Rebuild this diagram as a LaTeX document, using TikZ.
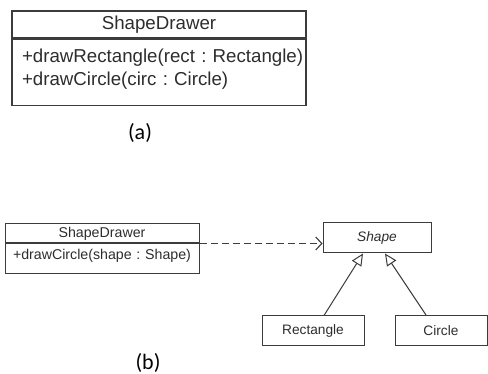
\documentclass[tikz,border=0pt]{standalone}
\usepackage{fontspec}
\setmainfont{Liberation Sans}
\newfontfamily\capfont{Carlito}
\definecolor{umlLine}{RGB}{60,60,60}
\definecolor{umlText}{RGB}{45,45,45}
\usetikzlibrary{arrows.meta,positioning,calc}
\frenchspacing

\begin{document}
\begin{tikzpicture}[x=1pt, y=-1pt,
    cls/.style={rectangle, draw=umlLine, line width=1pt, text=umlText, inner sep=0pt},
    hdbig/.style={cls, line width=1.3pt, minimum width=294pt, minimum height=27pt,
                  font=\fontsize{18.7}{23}\selectfont},
    opsbig/.style={cls, line width=1.3pt, minimum height=66pt, inner xsep=10pt,
                   text width=274pt, align=left, font=\fontsize{18.7}{23}\selectfont},
    hdsmall/.style={cls, minimum width=194pt, minimum height=19pt,
                    font=\fontsize{14.2}{17}\selectfont},
    opssmall/.style={cls, minimum height=30pt, inner xsep=8pt, text width=178pt,
                     align=left, font=\fontsize{14.2}{17}\selectfont},
    leaf/.style={cls, minimum height=30pt, font=\fontsize{13.7}{16}\selectfont},
    gen/.style={draw=umlLine, line width=1pt,
                -{Triangle[open, length=12pt, width=11pt]}},
    dep/.style={draw=umlLine, line width=1.1pt, dash pattern=on 7pt off 4pt,
                -{Straight Barb[length=6pt, width=13pt]}},
    figlabel/.style={font=\capfont\fontsize{22}{26}\selectfont}
  ]
  \useasboundingbox (0,0) rectangle (488,374);

  % (a)
  \node[hdbig] (drawerA) at (159,24.5) {ShapeDrawer};
  \node[opsbig, below=0pt of drawerA] (drawerAops)
    {\mbox{+drawRectangle(rect : Rectangle)}\\
     \mbox{+drawCircle(circ : Circle)}\rule[-10pt]{0pt}{0pt}};
  \node[figlabel] (capA) at (140,133) {(a)};

  % (b)
  \node[hdsmall] (drawerB) at (102,233.5) {ShapeDrawer};
  \node[opssmall, below=0pt of drawerB] (drawerBops)
    {\mbox{+drawCircle(shape : Shape)}\rule[-10pt]{0pt}{0pt}};
  \node[leaf, minimum width=108pt, font=\fontsize{13.7}{16}\itshape] (shape) at (377,238) {Shape};
  \node[leaf, minimum width=102pt] (rect) at (313,331) {Rectangle};
  \node[leaf, minimum width=92pt] (circ) at (441,330.5) {Circle};
  \node[figlabel] (capB) at (148,363) {(b)};

  \draw[dep] (drawerB.south east) -- (drawerB.south east -| shape.west);
  \draw[gen] ([xshift=11pt]rect.north) -- ([xshift=-14pt]shape.south);
  \draw[gen] ([xshift=-15pt]circ.north) -- ([xshift=8pt]shape.south);
\end{tikzpicture}
\end{document}
